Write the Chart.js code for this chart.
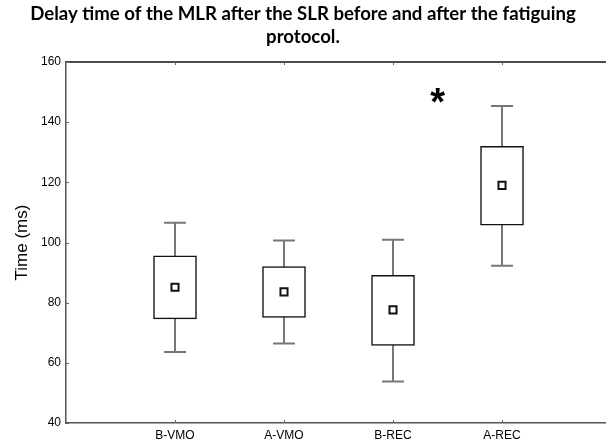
<!DOCTYPE html>
<html>
<head>
<meta charset="utf-8">
<script src="https://cdn.jsdelivr.net/npm/chart.js@4/dist/chart.umd.min.js"></script>
<style>
  html, body { margin: 0; padding: 0; background: #fff; overflow: hidden; }
  #chart { display: block; }
</style>
</head>
<body>
<canvas id="chart" width="606" height="448"></canvas>
<script>
// Dados (ms)
const categories = ['B-VMO', 'A-VMO', 'B-REC', 'A-REC'];
const means = [85.1, 83.6, 77.6, 119.0];
const boxLow = [74.6, 75.1, 65.8, 105.8];
const boxHigh = [95.6, 92.0, 89.1, 132.0];
const whiskerLow = [63.6, 66.4, 53.8, 92.3];
const whiskerHigh = [106.6, 100.7, 100.9, 145.4];
const yTicks = [40, 60, 80, 100, 120, 140, 160];

// Marca de significância (em coordenadas dos dados)
const starMark = { x: 3.41, y: 148.6, text: '*' };

const positions = categories.map(function(c, i) { return i + 1; });

const axisFont = 'Arial, "Liberation Sans", Helvetica, sans-serif';

// Whiskers, moldura e asterisco
const boxPlotExtras = {
    id: 'boxPlotExtras',
    beforeDatasetsDraw: function(chart) {
        const ctx = chart.ctx;
        const xs = chart.scales.x;
        const ys = chart.scales.y;
        ctx.save();
        ctx.strokeStyle = '#777';
        ctx.lineWidth = 2;
        positions.forEach(function(p, i) {
            const x = Math.round(xs.getPixelForValue(p));
            const yHi = ys.getPixelForValue(whiskerHigh[i]);
            const yLo = ys.getPixelForValue(whiskerLow[i]);
            ctx.beginPath();
            ctx.moveTo(x, yHi);
            ctx.lineTo(x, yLo);
            ctx.moveTo(x - 11, yHi);
            ctx.lineTo(x + 11, yHi);
            ctx.moveTo(x - 11, yLo);
            ctx.lineTo(x + 11, yLo);
            ctx.stroke();
        });
        ctx.restore();
    },
    afterDraw: function(chart) {
        const ctx = chart.ctx;
        const area = chart.chartArea;
        const xs = chart.scales.x;
        const ys = chart.scales.y;
        ctx.save();
        // linha superior
        ctx.strokeStyle = '#111';
        ctx.lineWidth = 1.5;
        ctx.beginPath();
        ctx.moveTo(area.left, area.top);
        ctx.lineTo(chart.width, area.top);
        ctx.stroke();
        // marcas internas
        ctx.strokeStyle = '#666';
        ctx.lineWidth = 1;
        ctx.beginPath();
        positions.forEach(function(p) {
            const x = Math.round(xs.getPixelForValue(p)) + 0.5;
            ctx.moveTo(x, area.top);
            ctx.lineTo(x, area.top + 3);
            ctx.moveTo(x, area.bottom);
            ctx.lineTo(x, area.bottom - 3);
        });
        yTicks.forEach(function(v) {
            const y = Math.round(ys.getPixelForValue(v)) + 0.5;
            ctx.moveTo(area.left, y);
            ctx.lineTo(area.left + 3, y);
        });
        ctx.stroke();
        // asterisco
        ctx.fillStyle = '#000';
        ctx.font = 'bold 38px ' + axisFont;
        ctx.textAlign = 'center';
        ctx.textBaseline = 'middle';
        ctx.fillText(starMark.text, xs.getPixelForValue(starMark.x), ys.getPixelForValue(starMark.y) + 8);
        ctx.restore();
    }
};

const ctx = document.getElementById('chart');

new Chart(ctx, {
    type: 'bar',
    data: {
        datasets: [{
            type: 'scatter',
            label: 'Mean',
            data: positions.map(function(p, i) { return { x: p, y: means[i] }; }),
            pointStyle: 'rect',
            pointRadius: 5,
            pointBorderWidth: 2,
            pointBackgroundColor: '#fff',
            pointBorderColor: '#111'
        }, {
            type: 'bar',
            label: 'Box',
            data: positions.map(function(p, i) { return { x: p, y: [boxLow[i], boxHigh[i]] }; }),
            backgroundColor: '#fff',
            borderColor: '#111',
            borderWidth: 1.5,
            borderSkipped: false,
            barThickness: 43
        }]
    },
    options: {
        responsive: false,
        animation: false,
        layout: { autoPadding: false, padding: { left: 0, right: 0, top: 0, bottom: 0 } },
        plugins: {
            legend: { display: false },
            tooltip: { enabled: false },
            title: {
                display: true,
                text: ['Delay time of the MLR after the SLR before and after the fatiguing', 'protocol.'],
                color: '#000',
                font: { family: 'Lato, "Open Sans", sans-serif', size: 18.6, weight: 'bold', lineHeight: 1.237 },
                padding: { top: 2.5, bottom: 13.5 }
            }
        },
        scales: {
            x: {
                type: 'linear',
                offset: false,
                min: 0,
                max: 4.954,
                afterBuildTicks: function(scale) {
                    scale.ticks = positions.map(function(p) { return { value: p }; });
                },
                afterFit: function(scale) { scale.height = 25; },
                ticks: {
                    color: '#000',
                    font: { family: axisFont, size: 12 },
                    padding: 5,
                    maxRotation: 0,
                    autoSkip: false,
                    callback: function(v) { return categories[v - 1]; }
                },
                grid: { display: false, drawTicks: false, offset: false },
                border: { display: true, color: '#555', width: 1.5 }
            },
            y: {
                min: 40,
                max: 160,
                afterBuildTicks: function(scale) {
                    scale.ticks = yTicks.map(function(v) { return { value: v }; });
                },
                afterFit: function(scale) { scale.width = 66; },
                ticks: {
                    color: '#000',
                    font: { family: axisFont, size: 12 },
                    padding: 5
                },
                grid: { display: false, drawTicks: false },
                border: { display: true, color: '#555', width: 1.5 },
                title: {
                    display: true,
                    text: 'Time (ms)',
                    color: '#000',
                    font: { family: axisFont, size: 17 },
                    padding: { top: 12, bottom: 0 }
                }
            }
        }
    },
    plugins: [boxPlotExtras]
});
</script>
</body>
</html>
